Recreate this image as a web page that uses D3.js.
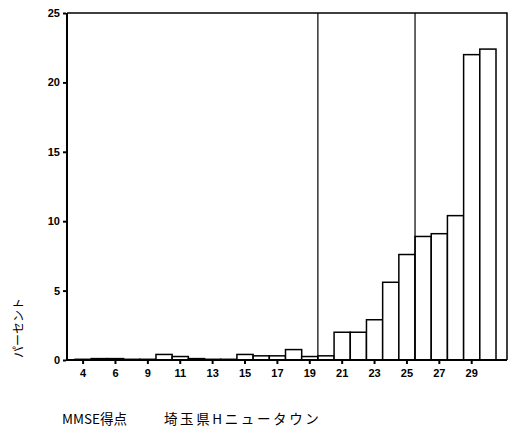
<!DOCTYPE html>
<html>
<head>
<meta charset="utf-8">
<script src="https://cdn.jsdelivr.net/npm/d3@7"></script>
<style>
  body { margin: 0; background: #fff; }
  svg { display: block; }
</style>
</head>
<body>
<div id="vis"></div>
<script>
// MMSE score categories (7 or 8 is one unseen category between 6 and 9)
const scores = ["4","5","6","7","9","10","11","12","13","14","15","16","17","18","19","20",
                "21","22","23","24","25","26","27","28","29","30"];
// percent of respondents per score
const percents = [0.05, 0.1, 0.1, 0.05, 0.05, 0.4, 0.25, 0.1, 0.05, 0.05, 0.4, 0.3, 0.3, 0.75, 0.25, 0.3,
                  2.0, 2.0, 2.9, 5.6, 7.6, 8.9, 9.1, 10.4, 22.0, 22.4];
const xLabels = ["4","6","9","11","13","15","17","19","21","23","25","27","29"];
const yTicks = [0, 5, 10, 15, 20, 25];
const cutoffs = ["20", "26"];   // reference lines drawn at the left edge of these bars
const yTitle = "パーセント";
const titleA = "MMSE得点";
const titleB = "埼玉県Hニュータウン";

const data = scores.map((s, i) => ({ score: s, pct: percents[i] }));

const W = 511, H = 432;
const frame = { left: 67, right: 507, top: 13, bottom: 360 };

const svg = d3.select("#vis").append("svg").attr("width", W).attr("height", H);
svg.append("rect").attr("width", W).attr("height", H).attr("fill", "#fff");

const x = d3.scaleBand()
  .domain(scores)
  .range([75, 496])
  .padding(0);

const y = d3.scaleLinear()
  .domain([0, 25])
  .range([frame.bottom, frame.top]);

// bars
svg.selectAll("rect.bar")
  .data(data)
  .enter()
  .append("rect")
    .attr("class", "bar")
    .attr("x", d => x(d.score))
    .attr("y", d => y(d.pct))
    .attr("width", x.bandwidth())
    .attr("height", d => y(0) - y(d.pct))
    .attr("fill", "#fff")
    .attr("stroke", "#000")
    .attr("stroke-width", 1.5);

// reference lines
svg.selectAll("line.cut")
  .data(cutoffs)
  .enter()
  .append("line")
    .attr("x1", d => x(d))
    .attr("x2", d => x(d))
    .attr("y1", frame.top)
    .attr("y2", frame.bottom)
    .attr("stroke", "#000")
    .attr("stroke-width", 1.2);

// frame: top, right (thin) and the two axis lines (thick)
svg.append("path")
  .attr("d", `M${frame.left},${frame.top}H${frame.right}V${frame.bottom}`)
  .attr("fill", "none")
  .attr("stroke", "#000")
  .attr("stroke-width", 1.5);
svg.append("path")
  .attr("d", `M${frame.left},${frame.top}V${frame.bottom}H${frame.right}`)
  .attr("fill", "none")
  .attr("stroke", "#000")
  .attr("stroke-width", 2);

// y axis
const yAxis = svg.append("g")
  .attr("transform", `translate(${frame.left - 1},0)`)
  .call(d3.axisLeft(y).tickValues(yTicks).tickSize(3).tickPadding(3));
yAxis.select(".domain").remove();
yAxis.selectAll("line").attr("stroke-width", 2);
yAxis.selectAll("text")
  .attr("font-family", "'Liberation Sans', Arial, sans-serif")
  .attr("font-size", 11)
  .attr("font-weight", "bold")
  .attr("fill", "#000");

// x axis
const xAxis = svg.append("g")
  .attr("transform", `translate(0,${frame.bottom + 1})`)
  .call(d3.axisBottom(x).tickValues(xLabels).tickSize(3).tickPadding(5));
xAxis.select(".domain").remove();
xAxis.selectAll("line").attr("stroke-width", 2);
xAxis.selectAll("text")
  .attr("font-family", "'Liberation Sans', Arial, sans-serif")
  .attr("font-size", 11)
  .attr("font-weight", "bold")
  .attr("fill", "#000");

// y title
svg.append("text")
  .attr("transform", "translate(23,328) rotate(-90)")
  .attr("text-anchor", "middle")
  .attr("font-family", "'Noto Sans CJK JP', sans-serif")
  .attr("font-size", 12)
  .attr("fill", "#000")
  .text(yTitle);

// chart title
const title = svg.append("text")
  .attr("x", 62)
  .attr("y", 424)
  .attr("font-family", "'Noto Sans CJK JP', sans-serif")
  .attr("font-size", 13.5)
  .attr("fill", "#000");
title.append("tspan").text(titleA);
title.append("tspan").attr("x", 164).attr("letter-spacing", 2.6).text(titleB);
</script>
</body>
</html>
